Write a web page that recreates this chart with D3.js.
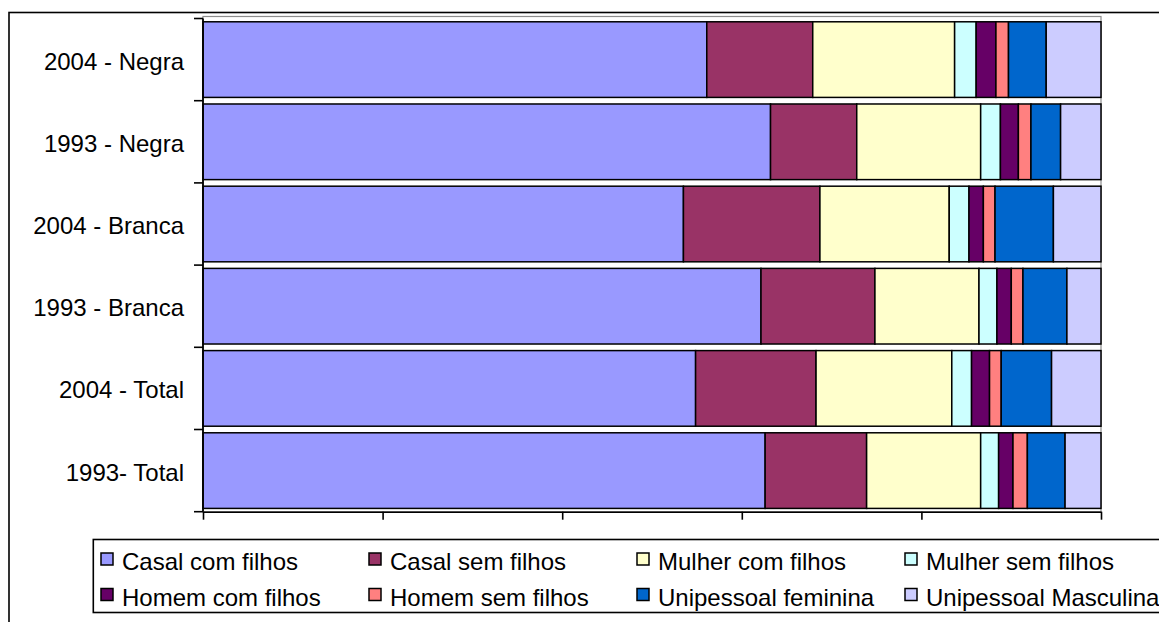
<!DOCTYPE html>
<html>
<head>
<meta charset="utf-8">
<script src="https://cdn.jsdelivr.net/npm/d3@7"></script>
<style>
  html, body { margin: 0; padding: 0; background: #ffffff; }
  svg { display: block; font-family: "Liberation Sans", Arial, sans-serif; }
</style>
</head>
<body>
<svg id="chart" width="1159" height="622"></svg>
<script>
// ---- data ----
const categories = ["2004 - Negra", "1993 - Negra", "2004 - Branca", "1993 - Branca", "2004 - Total", "1993- Total"];
const seriesNames = ["Casal com filhos", "Casal sem filhos", "Mulher com filhos", "Mulher sem filhos",
                     "Homem com filhos", "Homem sem filhos", "Unipessoal feminina", "Unipessoal Masculina"];
const casalComFilhos     = [56.1, 63.2, 53.5, 62.2, 54.8, 62.6];
const casalSemFilhos     = [11.8,  9.6, 15.2, 12.7, 13.4, 11.3];
const mulherComFilhos    = [15.8, 13.8, 14.4, 11.6, 15.1, 12.7];
const mulherSemFilhos    = [ 2.4,  2.2,  2.2,  2.0,  2.2,  2.0];
const homemComFilhos     = [ 2.2,  2.0,  1.6,  1.6,  2.0,  1.6];
const homemSemFilhos     = [ 1.4,  1.4,  1.3,  1.3,  1.3,  1.6];
const unipessoalFeminina = [ 4.2,  3.3,  6.5,  4.9,  5.6,  4.2];
const unipessoalMasculina= [ 6.1,  4.5,  5.3,  3.8,  5.5,  4.0];
const xTickValues = [0, 0.2, 0.4, 0.6, 0.8, 1];
const colors = ["#9999FF", "#993366", "#FFFFCC", "#CCFFFF", "#660066", "#FF8080", "#0066CC", "#CCCCFF"];

const seriesValues = [casalComFilhos, casalSemFilhos, mulherComFilhos, mulherSemFilhos,
                      homemComFilhos, homemSemFilhos, unipessoalFeminina, unipessoalMasculina];
const rows = categories.map((c, i) => {
  const r = { category: c };
  seriesNames.forEach((s, j) => { r[s] = seriesValues[j][i]; });
  return r;
});

// ---- layout ----
const svg = d3.select("#chart");
const plot = { left: 203, right: 1101, top: 18.5, bottom: 511.7 };

const x = d3.scaleLinear().domain([0, 1]).range([plot.left, plot.right]);
const y = d3.scaleBand().domain(categories).range([plot.top, plot.bottom])
  .paddingInner(0.08).paddingOuter(0.04);
const color = d3.scaleOrdinal().domain(seriesNames).range(colors);

// chart area border
svg.append("rect").attr("x", 9).attr("y", 12.5).attr("width", 1170).attr("height", 640)
  .attr("fill", "#fff").attr("stroke", "#000").attr("stroke-width", 1.6);

// plot area border (gray)
svg.append("rect").attr("x", plot.left).attr("y", plot.top - 2)
  .attr("width", plot.right - plot.left).attr("height", plot.bottom - plot.top + 2)
  .attr("fill", "none").attr("stroke", "#8c8c8c").attr("stroke-width", 1.2);

const stack = d3.stack().keys(seriesNames).offset(d3.stackOffsetExpand);
const stacked = stack(rows);

svg.append("g").selectAll("g").data(stacked).join("g")
  .attr("fill", d => color(d.key))
  .selectAll("rect").data(d => d).join("rect")
  .attr("x", d => x(d[0]))
  .attr("y", d => y(d.data.category))
  .attr("width", d => x(d[1]) - x(d[0]))
  .attr("height", y.bandwidth())
  .attr("stroke", "#000").attr("stroke-width", 1.5);

// bottom axis
const xAxis = d3.axisBottom(x).tickValues(xTickValues).tickSize(8).tickFormat("").tickSizeOuter(0);
const gx = svg.append("g").attr("transform", `translate(0,${plot.bottom})`).call(xAxis);
gx.selectAll("path, line").attr("stroke", "#000").attr("stroke-width", 1.6);

// left axis with ticks at category boundaries
const gy = svg.append("g");
gy.append("line").attr("x1", plot.left).attr("x2", plot.left)
  .attr("y1", plot.top).attr("y2", plot.bottom)
  .attr("stroke", "#000").attr("stroke-width", 1.8);
const boundaries = d3.range(categories.length + 1).map(k => plot.top + k * y.step());
gy.selectAll("line.tick").data(boundaries).join("line").attr("class", "tick")
  .attr("x1", plot.left - 9).attr("x2", plot.left)
  .attr("y1", d => d).attr("y2", d => d)
  .attr("stroke", "#000").attr("stroke-width", 1.6);

// category labels
svg.append("g").selectAll("text").data(categories).join("text")
  .attr("x", 184)
  .attr("y", d => y(d) + y.bandwidth() / 2 + 10)
  .attr("text-anchor", "end")
  .attr("font-size", 24)
  .attr("fill", "#000")
  .text(d => d);

// legend
const legend = svg.append("g");
legend.append("rect").attr("x", 93.3).attr("y", 539.5).attr("width", 1100).attr("height", 73)
  .attr("fill", "#fff").attr("stroke", "#000").attr("stroke-width", 1.6);
const colX = [101, 369, 637, 905];
const rowSq = [553, 588.5];
const rowBase = [570, 605.5];
const items = legend.selectAll("g.item").data(seriesNames).join("g").attr("class", "item");
items.append("rect")
  .attr("x", (d, i) => colX[i % 4])
  .attr("y", (d, i) => rowSq[Math.floor(i / 4)])
  .attr("width", 12).attr("height", 12)
  .attr("fill", d => color(d)).attr("stroke", "#000").attr("stroke-width", 1.5);
items.append("text")
  .attr("x", (d, i) => colX[i % 4] + 21)
  .attr("y", (d, i) => rowBase[Math.floor(i / 4)])
  .attr("font-size", 24)
  .attr("fill", "#000")
  .text(d => d);
</script>
</body>
</html>
